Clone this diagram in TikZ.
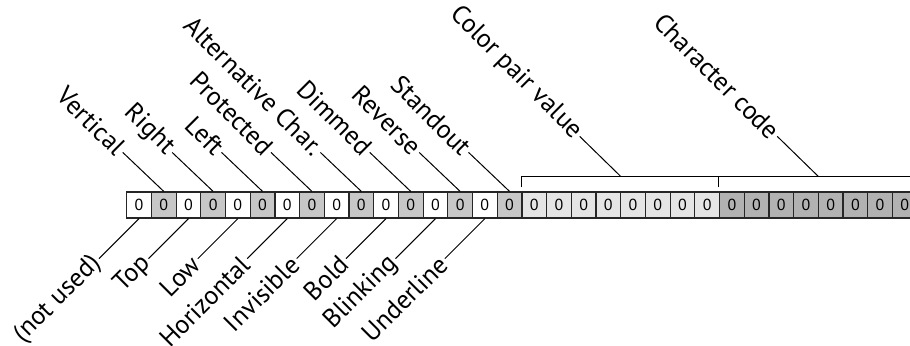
\documentclass[tikz,border=0pt]{standalone}
\usepackage{fontspec}
\setmainfont{PT Sans}
\usetikzlibrary{positioning, calc}

\definecolor{bitgray}{gray}{0.78}
\definecolor{bitlight}{gray}{0.90}
\definecolor{bitdark}{gray}{0.70}

\begin{document}
\begin{tikzpicture}[
    x=0.5pt, y=-0.5pt,
    bit/.style={draw=black!85, line width=0.6pt, minimum width=12.35pt, minimum height=13pt, inner sep=0pt, font=\fontsize{8}{9}\selectfont},
    toplbl/.style={anchor=east, rotate=-45, inner sep=1pt, font=\fontsize{13}{15}\selectfont},
    botlbl/.style={anchor=east, rotate=45, inner sep=1pt, font=\fontsize{13}{15}\selectfont},
    lead/.style={draw, line width=0.5pt}
  ]
  \useasboundingbox (0,0) rectangle (910,345);
  \foreach \i in {0,...,31} {
    \ifnum\i<16 \ifodd\i \def\bitfill{bitgray}\else \def\bitfill{white}\fi
    \else\ifnum\i<24 \def\bitfill{bitlight}\else \def\bitfill{bitdark}\fi\fi
    \node[bit, fill=\bitfill] (c\i) at ({139.05+24.7*\i},205) {0};
  }
  \foreach \i/\txt in {1/Vertical, 3/Right, 5/Left, 7/Protected, 9/Alternative Char., 11/Dimmed, 13/Reverse, 15/Standout} {
    \node[toplbl] (t\i) at ($(c\i.north)+(-41,-39)$) {\txt};
    \draw[lead] (t\i.east) -- (c\i.north);
  }
  \foreach \i/\txt in {0/(not used), 2/Top, 4/Low, 6/Horizontal, 8/Invisible, 10/Bold, 12/Blinking, 14/Underline} {
    \node[botlbl] (b\i) at ($(c\i.south)+(-40,40)$) {\txt};
    \draw[lead] (b\i.east) -- (c\i.south);
  }
  \draw[lead] ($(c16.north west)+(0,-4)$) -- ++(0,-11) -- ($(c31.north east)+(0,-15)$) -- ++(0,11);
  \draw[lead] ($(c24.north west)+(0,-4)$) -- ++(0,-11);
  \coordinate (cp) at ($(c16.north west)!0.5!(c23.north east)+(0,-15)$);
  \coordinate (cc) at ($(c24.north west)!0.5!(c31.north east)+(0,-15)$);
  \node[toplbl] (cpv) at ($(cp)+(-41,-40)$) {Color pair value};
  \draw[lead] (cpv.east) -- (cp);
  \node[toplbl] (chc) at ($(cc)+(-41,-40)$) {Character code};
  \draw[lead] (chc.east) -- (cc);
\end{tikzpicture}
\end{document}
